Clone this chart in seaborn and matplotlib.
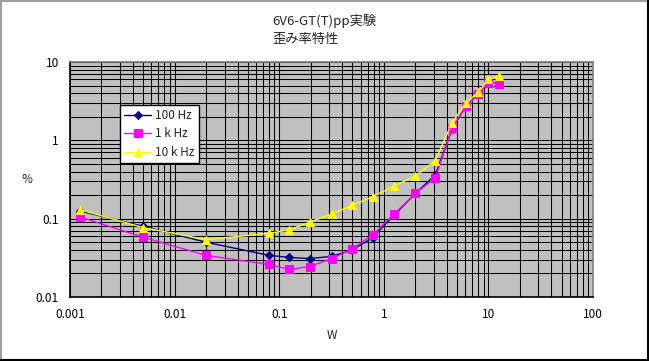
import matplotlib
matplotlib.use("Agg")
import matplotlib.pyplot as plt
import seaborn as sns
import pandas as pd
from matplotlib.ticker import LogLocator, FixedLocator, FixedFormatter, NullFormatter
from matplotlib.lines import Line2D

# ---- data ----
power_w = [0.00125, 0.005, 0.02, 0.08, 0.125, 0.195, 0.32, 0.5, 0.78, 1.25,
           2.0, 3.1, 4.5, 6.1, 8.0, 10.0, 12.5]
dist_100hz = [0.125, 0.08, 0.05, 0.034, 0.032, 0.031, 0.033, 0.04, 0.057, 0.11,
              0.21, 0.36, 1.4, 2.75, 3.9, 5.4, 5.3]
dist_1khz = [0.105, 0.058, 0.034, 0.026, 0.0225, 0.0245, 0.031, 0.041, 0.062, 0.114,
             0.21, 0.33, 1.42, 2.74, 3.9, 5.45, 5.3]
dist_10khz = [0.13, 0.077, 0.054, 0.065, 0.072, 0.09, 0.115, 0.148, 0.19, 0.26,
              0.35, 0.55, 1.68, 3.0, 4.1, 6.0, 6.6]
series_names = ["100 Hz", "1 k Hz", "10 k Hz"]
x_ticks = [0.001, 0.01, 0.1, 1, 10, 100]
x_tick_labels = ["0.001", "0.01", "0.1", "1", "10", "100"]
y_ticks = [0.01, 0.1, 1, 10]
y_tick_labels = ["0.01", "0.1", "1", "10"]
title_lines = ["6V6-GT(T)pp実験", "歪み率特性"]

sns.set_style("white")
plt.rcParams['font.family'] = ['Noto Sans CJK JP', 'DejaVu Sans']

W, H = 649, 361
fig = plt.figure(figsize=(W / 100, H / 100), dpi=100)
fig.patch.set_facecolor("white")

L, R, T, B = 70, 593, 62, 297
ax = fig.add_axes([L / W, (H - B) / H, (R - L) / W, (B - T) / H])
ax.set_facecolor("#C0C0C0")

styles = [
    dict(color="#000080", marker="D", markersize=4.2),
    dict(color="#FF00FF", marker="s", markersize=5.2),
    dict(color="#FFFF00", marker="^", markersize=6.0),
]
series = [dist_100hz, dist_1khz, dist_10khz]
for i, (name, vals, st) in enumerate(zip(series_names, series, styles)):
    df = pd.DataFrame({"W": power_w, "pct": vals})
    sns.lineplot(data=df, x="W", y="pct", ax=ax, color=st["color"],
                 marker=st["marker"], markersize=st["markersize"],
                 markeredgecolor=st["color"], markerfacecolor=st["color"],
                 linewidth=1.0, label=name, zorder=3 + i, sort=False,
                 estimator=None)

ax.set_xscale("log")
ax.set_yscale("log")
ax.set_xlim(0.001, 100)
ax.set_ylim(0.01, 10)

ax.xaxis.set_major_locator(FixedLocator(x_ticks))
ax.xaxis.set_major_formatter(FixedFormatter(x_tick_labels))
ax.yaxis.set_major_locator(FixedLocator(y_ticks))
ax.yaxis.set_major_formatter(FixedFormatter(y_tick_labels))
ax.xaxis.set_minor_locator(LogLocator(base=10, subs=range(2, 10), numticks=20))
ax.yaxis.set_minor_locator(LogLocator(base=10, subs=range(2, 10), numticks=20))
ax.xaxis.set_minor_formatter(NullFormatter())
ax.yaxis.set_minor_formatter(NullFormatter())

ax.grid(True, which="both", color="black", linewidth=0.75)
ax.set_axisbelow(True)
ax.tick_params(which="both", length=0, labelsize=8.5, colors="black")
ax.tick_params(axis="x", pad=8)
ax.tick_params(axis="y", pad=8)

for s in ["left", "bottom"]:
    ax.spines[s].set_color("black")
    ax.spines[s].set_linewidth(1.2)
for s in ["top", "right"]:
    ax.spines[s].set_color("#808080")
    ax.spines[s].set_linewidth(1.2)
    ax.spines[s].set_visible(True)

ax.set_xlabel("W", fontsize=8.5, labelpad=6)
ax.set_ylabel("%", fontsize=8.5, rotation=0, labelpad=6, va="center")

fig.text(324 / W, 1 - 30 / H, "\n".join(title_lines), ha="center", va="center",
         multialignment="left", fontsize=9.5, linespacing=1.5)

leg = ax.legend(loc="upper left", bbox_to_anchor=((120 - L) / (R - L), (B - 105) / (B - T)),
                frameon=True, fancybox=False, framealpha=1, edgecolor="black",
                facecolor="white", fontsize=8.5, handlelength=2.3, borderpad=0.35,
                labelspacing=0.45, handletextpad=0.35, borderaxespad=0)
leg.get_frame().set_linewidth(1.0)
leg.set_zorder(10)

# outer chart border
fig.add_artist(Line2D([0, 1], [1 - 0.5 / H, 1 - 0.5 / H], color="#A0A0A0", lw=1.5, transform=fig.transFigure))
fig.add_artist(Line2D([0.5 / W, 0.5 / W], [0, 1], color="#A0A0A0", lw=1.5, transform=fig.transFigure))
fig.add_artist(Line2D([0, 1], [1 / H, 1 / H], color="black", lw=1.5, transform=fig.transFigure))
fig.add_artist(Line2D([1 - 1 / W, 1 - 1 / W], [0, 1], color="black", lw=1.5, transform=fig.transFigure))

fig.savefig("out.png", dpi=100)
